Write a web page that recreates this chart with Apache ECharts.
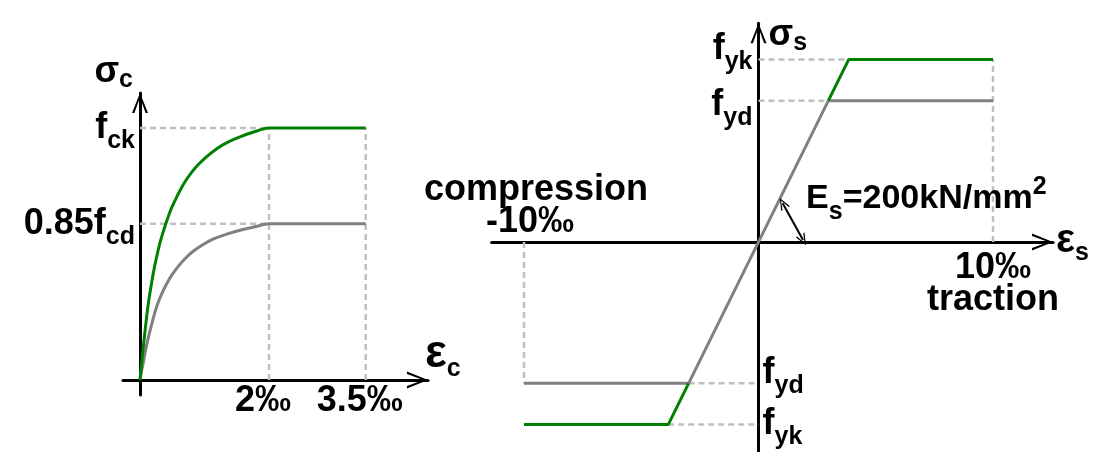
<!DOCTYPE html>
<html>
<head>
<meta charset="utf-8">
<script src="https://cdn.jsdelivr.net/npm/echarts@6/dist/echarts.min.js"></script>
<style>
  html, body { margin: 0; padding: 0; background: #ffffff; }
  #chart { width: 1103px; height: 452px; }
</style>
</head>
<body>
<div id="chart"></div>
<script>
// ---- Concrete: parabola-rectangle diagram (strain in ‰, stress as a fraction of fck) ----
const concreteCharStrain = [0, 0.035, 0.076, 0.127, 0.173, 0.218, 0.264, 0.31, 0.356, 0.40, 0.447, 0.493, 0.55, 0.62, 0.70, 0.80, 0.90, 1.00, 1.10, 1.20, 1.37, 1.55, 1.75, 2.0, 3.5];
const concreteCharStress = [0, 0.09, 0.19, 0.30, 0.375, 0.44, 0.495, 0.545, 0.585, 0.62, 0.655, 0.685, 0.716, 0.752, 0.788, 0.824, 0.854, 0.879, 0.90, 0.92, 0.945, 0.965, 0.983, 1.0, 1.0];
const concreteDesignStrain = [0, 0.05, 0.10, 0.15, 0.20, 0.25, 0.30, 0.36, 0.42, 0.49, 0.56, 0.64, 0.72, 0.81, 0.92, 1.00, 1.10, 1.20, 1.37, 1.58, 1.78, 2.0, 3.5];
const concreteDesignStress = [0, 0.07, 0.135, 0.19, 0.24, 0.285, 0.32, 0.355, 0.385, 0.415, 0.44, 0.465, 0.487, 0.508, 0.528, 0.541, 0.555, 0.566, 0.581, 0.596, 0.608, 0.62, 0.62];
// dashed guide segments [[x1, y1], [x2, y2]]
const concreteGuides = [
  [[0, 1], [2, 1]],
  [[0, 0.62], [2, 0.62]],
  [[2, 0], [2, 1]],
  [[3.5, 0], [3.5, 1]]
];
const concreteStrainTicks = [2, 3.5];
const concreteStrainTickLabels = ['2‰', '3.5‰'];
const concreteStressTicks = [0.62, 1];
const concreteStressTickLabels = ['{m|0.85f}{s|cd}', '{m|f}{s|ck}'];

// ---- Reinforcing steel: bilinear diagram (strain in ‰, stress in N/mm²) ----
const steelDesignStrain = [-10, -2.98, 2.98, 10];
const steelDesignStress = [-596, -596, 596, 596];
const steelCharStrainTop = [2.98, 3.85, 10];
const steelCharStressTop = [596, 770, 770];
const steelCharStrainBottom = [-10, -3.85, -2.98];
const steelCharStressBottom = [-770, -770, -596];
const steelGuides = [
  [[0, 770], [3.85, 770]],
  [[0, 596], [2.98, 596]],
  [[10, 0], [10, 770]],
  [[-10, 0], [-10, -596]],
  [[-2.98, -596], [0, -596]],
  [[-3.85, -770], [0, -770]]
];
const steelTractionTicks = [10];
const steelTractionTickLabels = ['{m|10‰}\n{m|traction}'];
const steelCompressionTicks = [-10];
const steelCompressionTickLabels = ['{m|compression}\n{mr|-10‰}'];
const steelTopTicks = [596, 770];
const steelTopTickLabels = ['{md|f}{sd|yd}', '{mu|f}{su|yk}'];
const steelBottomTicks = [-770, -596];
const steelBottomTickLabels = ['{m|f}{s|yk}', '{mu|f}{su|yd}'];
// modulus annotation: pointer from the elastic branch down to the strain axis
const modulusPointer = [[1.03, 163], [1.90, 8]];
const modulusLabelAt = [2.03, 181];
const modulusLabel = '{m|E}{s|s}{m|=200kN/mm}{p|2}';

const FONT = '"Liberation Sans", Arial, sans-serif';
const GREEN = '#008000';
const GREY = '#808080';
const GUIDE = '#c0c0c0';
const ARROW_V = 'path://M8,0 L16,20 L13.6,20 L8,4.5 L2.4,20 L0,20 Z';

// grid geometry (pixels) and where the strain / stress axes cross inside each grid
const concreteBox = { left: 123, top: 93, width: 305, height: 302 };
const concreteAxisShift = { x: 17, y: 15 };
const steelBox = { left: 491.7, top: 23.3, width: 561.3, height: 428.7 };
const steelAxisShift = { left: 266.8, right: 294.5, top: 218.7, bottom: 210 };

function txt(size, extra) {
  return Object.assign({ fontFamily: FONT, fontWeight: 'bold', fontSize: size, color: '#000' }, extra || {});
}
const rich = {
  m: txt(36),
  mr: txt(36, { padding: [0, 12, 0, 0] }),
  s: txt(25, { padding: [26, 0, 0, 0] }),
  mu: txt(36, { padding: [0, 0, 20, 0] }),
  su: txt(25, { padding: [6, 0, 0, 0] }),
  md: txt(36, { padding: [8, 0, 0, 0] }),
  sd: txt(25, { padding: [34, 0, 0, 0] }),
  g: txt(46),
  gs: txt(25, { padding: [30, 0, 0, 0] }),
  g2: txt(40),
  gs2: txt(25, { padding: [24, 0, 0, 0] }),
  sg: txt(36),
  ss: txt(25, { padding: [16, 0, 0, 0] }),
  p: txt(25, { padding: [0, 0, 24, 0] })
};

function pairs(xs, ys) { return xs.map((x, i) => [x, ys[i]]); }
function labelFrom(ticks, labels) { return v => { const i = ticks.indexOf(v); return i < 0 ? '' : labels[i]; }; }

function axisLineStyle(show, arrowSize) {
  return {
    show: show,
    onZero: false,
    symbol: show ? ['none', ARROW_V] : 'none',
    symbolSize: arrowSize,
    symbolOffset: [0, -arrowSize[1] / 2],
    lineStyle: { color: '#000', width: 3 }
  };
}

function guideSeries(segments, xi, yi) {
  return segments.map(seg => ({
    type: 'line', xAxisIndex: xi, yAxisIndex: yi, data: seg,
    symbol: 'none', silent: true, z: 1,
    lineStyle: { color: GUIDE, width: 2.5, type: [6, 4] }
  }));
}
function curve(data, color, xi, yi, extra) {
  return Object.assign({
    type: 'line', xAxisIndex: xi, yAxisIndex: yi, data: data,
    symbol: 'none', silent: true, z: 3,
    lineStyle: { color: color, width: 3 }
  }, extra || {});
}

const option = {
  animation: false,
  backgroundColor: '#ffffff',
  grid: [
    Object.assign({ outerBoundsMode: 'none', containLabel: false }, concreteBox),
    Object.assign({ outerBoundsMode: 'none', containLabel: false }, steelBox)
  ],
  xAxis: [
    {
      gridIndex: 0, type: 'value', min: -0.2636, max: 4.465, position: 'bottom', offset: -concreteAxisShift.y,
      axisLine: axisLineStyle(true, [19, 21]),
      axisTick: { show: false }, splitLine: { show: false },
      axisLabel: { customValues: concreteStrainTicks, formatter: labelFrom(concreteStrainTicks, concreteStrainTickLabels),
        margin: 3, fontFamily: FONT, fontWeight: 'bold', fontSize: 36, color: '#000', padding: [0, 12, 0, 0] },
      name: '{g|ε}{gs|c}', nameLocation: 'end', nameGap: -3, nameMoveOverlap: false,
      nameTextStyle: { rich: rich, padding: [0, 0, 52, 0] }
    },
    {
      gridIndex: 1, type: 'value', min: -11.377, max: 12.559, position: 'bottom', offset: -steelAxisShift.bottom,
      axisLine: axisLineStyle(true, [22, 21]),
      axisTick: { show: false }, splitLine: { show: false },
      axisLabel: { customValues: steelTractionTicks, formatter: labelFrom(steelTractionTicks, steelTractionTickLabels),
        margin: 10, rich: rich, lineHeight: 32 },
      name: '{g2|ε}{gs2|s}', nameLocation: 'end', nameGap: 3, nameMoveOverlap: false,
      nameTextStyle: { rich: rich, padding: [0, 0, 2, 0] }
    },
    {
      gridIndex: 1, type: 'value', min: -11.377, max: 12.559, position: 'top', offset: -steelAxisShift.top,
      axisLine: axisLineStyle(false, [1, 1]),
      axisTick: { show: false }, splitLine: { show: false },
      axisLabel: { customValues: steelCompressionTicks, formatter: labelFrom(steelCompressionTicks, steelCompressionTickLabels),
        margin: 4, rich: rich, lineHeight: 32, padding: [0, 0, 0, 24] }
    }
  ],
  yAxis: [
    {
      gridIndex: 0, type: 'value', min: -0.0595, max: 1.139, position: 'left', offset: -concreteAxisShift.x,
      axisLine: axisLineStyle(true, [16, 20]),
      axisTick: { show: false }, splitLine: { show: false },
      axisLabel: { customValues: concreteStressTicks, formatter: labelFrom(concreteStressTicks, concreteStressTickLabels),
        margin: 5, rich: rich },
      name: '{sg|σ}{ss|c}', nameLocation: 'end', nameGap: 0, nameMoveOverlap: false,
      nameTextStyle: { rich: rich, align: 'right', verticalAlign: 'bottom', padding: [0, 7, 0, 0] }
    },
    {
      gridIndex: 1, type: 'value', min: -885.7, max: 922.4, position: 'left', offset: -steelAxisShift.left,
      axisLine: axisLineStyle(true, [20, 20]),
      axisTick: { show: false }, splitLine: { show: false },
      axisLabel: { customValues: steelTopTicks, formatter: labelFrom(steelTopTicks, steelTopTickLabels),
        margin: 6, rich: rich },
      name: '{sg|σ}{ss|s}', nameLocation: 'end', nameGap: -12, nameMoveOverlap: false,
      nameTextStyle: { rich: rich, align: 'left', verticalAlign: 'middle', padding: [0, 0, 0, 10] }
    },
    {
      gridIndex: 1, type: 'value', min: -885.7, max: 922.4, position: 'right', offset: -steelAxisShift.right,
      axisLine: axisLineStyle(false, [1, 1]),
      axisTick: { show: false }, splitLine: { show: false },
      axisLabel: { customValues: steelBottomTicks, formatter: labelFrom(steelBottomTicks, steelBottomTickLabels),
        margin: 4, rich: rich }
    }
  ],
  series: [
    ...guideSeries(concreteGuides, 0, 0),
    ...guideSeries(steelGuides, 1, 1),
    curve(pairs(concreteDesignStrain, concreteDesignStress), GREY, 0, 0, { smooth: 0.3 }),
    curve(pairs(concreteCharStrain, concreteCharStress), GREEN, 0, 0, { z: 4, smooth: 0.3 }),
    curve(pairs(steelDesignStrain, steelDesignStress), GREY, 1, 1, {
      markLine: {
        silent: true, animation: false,
        symbol: [ARROW_V, ARROW_V], symbolSize: [10, 12],
        lineStyle: { color: '#000', width: 2, type: 'solid' },
        label: { show: false },
        data: [[{ coord: modulusPointer[0] }, { coord: modulusPointer[1] }]]
      },
      markPoint: {
        silent: true, animation: false,
        symbol: 'circle', symbolSize: 0,
        label: { show: true, position: 'right', distance: 0, formatter: modulusLabel, rich: Object.assign({}, rich, { m: txt(34) }) },
        data: [{ coord: modulusLabelAt }]
      }
    }),
    curve(pairs(steelCharStrainTop, steelCharStressTop), GREEN, 1, 1, { z: 4 }),
    curve(pairs(steelCharStrainBottom, steelCharStressBottom), GREEN, 1, 1, { z: 4 })
  ]
};

const chart = echarts.init(document.getElementById('chart'));
chart.setOption(option);
</script>
</body>
</html>
